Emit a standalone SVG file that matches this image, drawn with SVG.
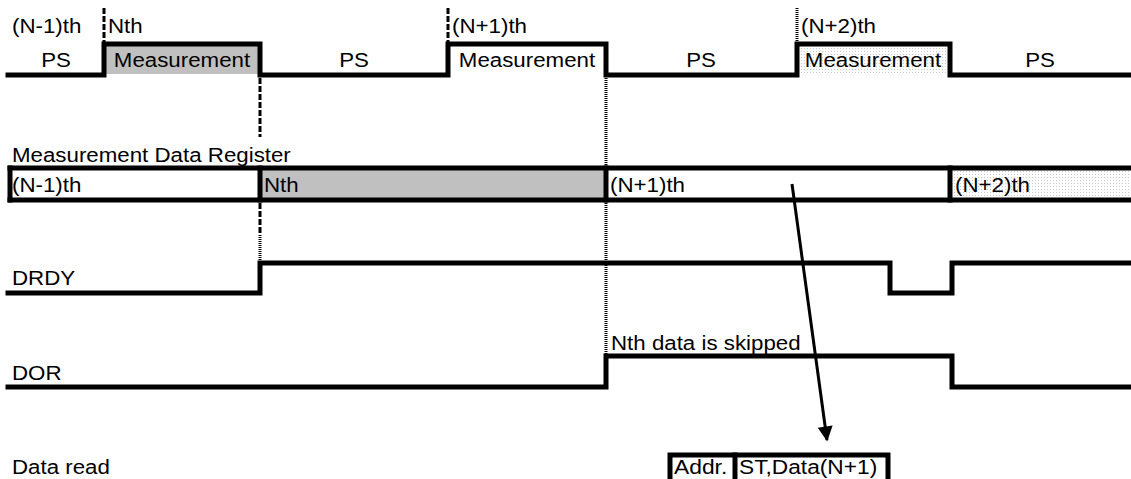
<svg xmlns="http://www.w3.org/2000/svg" width="1131" height="479" viewBox="0 0 1131 479">
  <style>
    .sig { fill: none; stroke: #000; stroke-width: 5; stroke-linejoin: miter; stroke-linecap: square; }
    .dash { fill: none; stroke: #000; stroke-width: 3; stroke-dasharray: 6 2; }
    .dot { fill: none; stroke: #000; stroke-width: 3; stroke-dasharray: 1 1; }
    .arrow { fill: none; stroke: #000; stroke-width: 3; }
    text { font-family: "Liberation Sans", Arial, sans-serif; font-size: 20px; fill: #000; }
    .mid { text-anchor: middle; }
  </style>
  <defs>
    <pattern id="fineDots" width="3" height="3" patternUnits="userSpaceOnUse">
      <rect width="3" height="3" fill="#ffffff"/>
      <rect width="1" height="1" fill="#c8c8c8"/>
    </pattern>
    <marker id="head" viewBox="0 0 10 10" refX="9" refY="5" markerWidth="6.5" markerHeight="5" markerUnits="strokeWidth" orient="auto">
      <path d="M0,0 L10,5 L0,10 z" fill="#000"/>
    </marker>
  </defs>

  <!-- Measurement / PS cycle -->
  <g id="cycle">
    <rect x="106" y="46" width="152" height="28" fill="#c0c0c0"/>
    <rect x="799" y="46" width="149" height="28" fill="url(#fineDots)"/>
    <polyline class="sig" points="8,75 104,75 104,44 260,44 260,75 448,75 448,44 606,44 606,75 797,75 797,44 950,44 950,75 1131,75"/>
    <text x="12" y="33" textLength="69.4" lengthAdjust="spacingAndGlyphs">(N-1)th</text>
    <text x="108" y="33" textLength="34.7" lengthAdjust="spacingAndGlyphs">Nth</text>
    <text x="452" y="33" textLength="75" lengthAdjust="spacingAndGlyphs">(N+1)th</text>
    <text x="801" y="33" textLength="75" lengthAdjust="spacingAndGlyphs">(N+2)th</text>
    <text class="mid" x="56" y="67" textLength="29.7" lengthAdjust="spacingAndGlyphs">PS</text>
    <text class="mid" x="354" y="67" textLength="29.7" lengthAdjust="spacingAndGlyphs">PS</text>
    <text class="mid" x="701" y="67" textLength="29.7" lengthAdjust="spacingAndGlyphs">PS</text>
    <text class="mid" x="1040" y="67" textLength="29.7" lengthAdjust="spacingAndGlyphs">PS</text>
    <text class="mid" x="182" y="67" textLength="136.3" lengthAdjust="spacingAndGlyphs">Measurement</text>
    <text class="mid" x="527" y="67" textLength="136.3" lengthAdjust="spacingAndGlyphs">Measurement</text>
    <text class="mid" x="873" y="67" textLength="136.3" lengthAdjust="spacingAndGlyphs">Measurement</text>
  </g>

  <!-- Measurement data register -->
  <g id="register">
    <text x="12" y="162" textLength="278.8" lengthAdjust="spacingAndGlyphs">Measurement Data Register</text>
    <rect x="262" y="170" width="342" height="29" fill="#c0c0c0"/>
    <rect x="952" y="170" width="179" height="29" fill="url(#fineDots)"/>
    <line class="sig" x1="10" y1="168" x2="1131" y2="168"/>
    <line class="sig" x1="10" y1="200" x2="1131" y2="200"/>
    <line class="sig" x1="10" y1="168" x2="10" y2="200"/>
    <line class="sig" x1="260" y1="168" x2="260" y2="200"/>
    <line class="sig" x1="606" y1="168" x2="606" y2="200"/>
    <line class="sig" x1="950" y1="168" x2="950" y2="200"/>
    <text x="12" y="192" textLength="69.4" lengthAdjust="spacingAndGlyphs">(N-1)th</text>
    <text x="264" y="192" textLength="34.7" lengthAdjust="spacingAndGlyphs">Nth</text>
    <text x="610" y="192" textLength="75" lengthAdjust="spacingAndGlyphs">(N+1)th</text>
    <text x="955" y="192" textLength="75" lengthAdjust="spacingAndGlyphs">(N+2)th</text>
  </g>

  <!-- DRDY -->
  <g id="drdy">
    <text x="12" y="285" textLength="63.2" lengthAdjust="spacingAndGlyphs">DRDY</text>
    <polyline class="sig" points="8,293 260,293 260,263 890,263 890,293 952,293 952,263 1131,263"/>
  </g>

  <!-- DOR -->
  <g id="dor">
    <text x="12" y="380" textLength="49.6" lengthAdjust="spacingAndGlyphs">DOR</text>
    <polyline class="sig" points="8,387 606,387 606,356 952,356 952,387 1131,387"/>
    <text x="611" y="350" textLength="189.6" lengthAdjust="spacingAndGlyphs">Nth data is skipped</text>
  </g>

  <!-- Data read -->
  <g id="dataread">
    <text x="12" y="474" textLength="97.9" lengthAdjust="spacingAndGlyphs">Data read</text>
    <polyline class="sig" points="670,481 670,455 888,455 888,481"/>
    <line class="sig" x1="735" y1="455" x2="735" y2="481"/>
    <text x="674" y="474" textLength="53.3" lengthAdjust="spacingAndGlyphs">Addr.</text>
    <text x="739" y="474" textLength="138.2" lengthAdjust="spacingAndGlyphs">ST,Data(N+1)</text>
  </g>

  <!-- Timing markers and read arrow -->
  <g id="connectors">
    <line class="dash" x1="104" y1="8" x2="104" y2="42"/>
    <line class="dash" x1="448" y1="8" x2="448" y2="42"/>
    <line class="dot" x1="797" y1="8" x2="797" y2="42"/>
    <line class="dash" x1="260" y1="78" x2="260" y2="137"/>
    <line class="dash" x1="260" y1="203" x2="260" y2="235"/>
    <line class="dot" x1="260" y1="235" x2="260" y2="261"/>
    <line class="dot" x1="606" y1="78" x2="606" y2="166"/>
    <line class="dot" x1="606" y1="203" x2="606" y2="355"/>
    <line class="arrow" x1="792" y1="184" x2="827" y2="440" marker-end="url(#head)"/>
  </g>
</svg>
